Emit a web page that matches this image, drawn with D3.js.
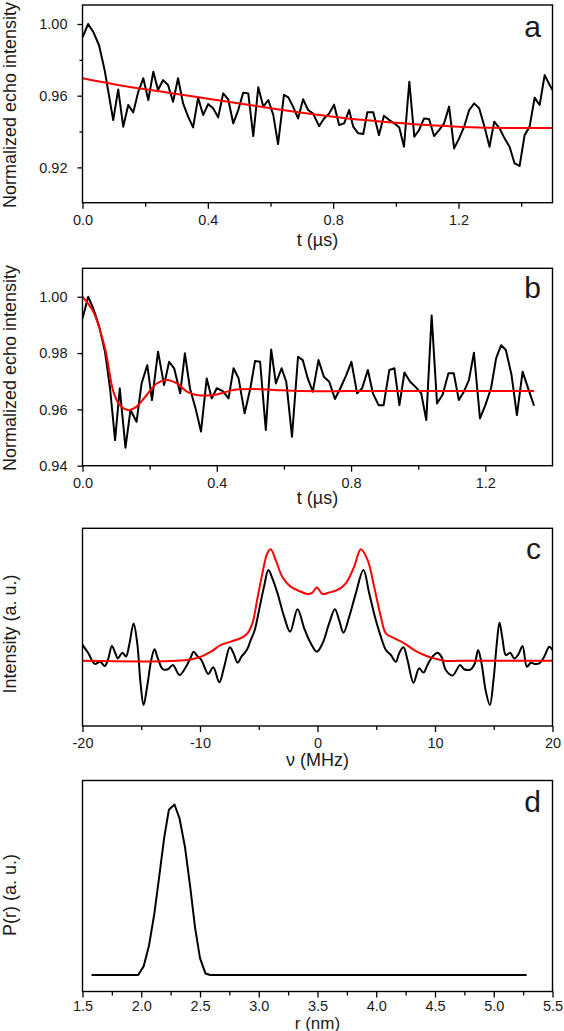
<!DOCTYPE html>
<html>
<head>
<meta charset="utf-8">
<script src="https://cdn.jsdelivr.net/npm/d3@7"></script>
<style>
  html, body { margin: 0; padding: 0; background: #fff; }
  svg text { font-family: "Liberation Sans", Arial, sans-serif; fill: #1a1a1a; }
</style>
</head>
<body>
<svg id="chart" width="564" height="1031"></svg>
<script>
// ---------------- DATA ----------------
// Panel a: echo decay (black) and background fit (red)
const tA = [0,0.018,0.034,0.053,0.071,0.087,0.098,0.114,0.13,0.146,0.162,0.178,0.194,0.21,0.226,0.241,0.257,0.273,0.289,0.305,0.321,0.337,0.353,0.369,0.385,0.401,0.417,0.433,0.449,0.465,0.481,0.497,0.513,0.529,0.545,0.561,0.577,0.593,0.609,0.624,0.643,0.657,0.672,0.688,0.704,0.72,0.736,0.755,0.771,0.787,0.803,0.819,0.835,0.851,0.864,0.88,0.896,0.909,0.928,0.946,0.962,0.979,0.995,1.011,1.026,1.043,1.059,1.074,1.09,1.106,1.122,1.138,1.154,1.17,1.186,1.202,1.218,1.234,1.25,1.266,1.283,1.299,1.314,1.331,1.347,1.363,1.379,1.395,1.411,1.427,1.443,1.459,1.475,1.491,1.5];
const echoA = [0.9926,1.000,0.9957,0.988,0.974,0.9576,0.9464,0.9635,0.9427,0.9548,0.9507,0.9622,0.9697,0.9576,0.9734,0.9632,0.9687,0.966,0.9566,0.9697,0.9557,0.9483,0.9423,0.9589,0.9492,0.9553,0.953,0.9479,0.9613,0.958,0.9446,0.952,0.9617,0.9613,0.9375,0.9647,0.9539,0.9576,0.9492,0.933,0.9604,0.959,0.9539,0.9473,0.958,0.952,0.950,0.943,0.9473,0.950,0.955,0.9436,0.9446,0.952,0.9427,0.939,0.9386,0.9507,0.9507,0.938,0.9488,0.9464,0.9446,0.9423,0.9315,0.9678,0.9371,0.9408,0.9473,0.947,0.9375,0.9408,0.9446,0.9539,0.9306,0.9362,0.9427,0.952,0.9557,0.953,0.9427,0.9315,0.9455,0.9418,0.9362,0.9315,0.9222,0.9208,0.938,0.9427,0.9589,0.9548,0.9715,0.966,0.9632];
const fitTA = [0,0.1,0.2,0.3,0.4,0.5,0.6,0.7,0.8,0.9,1.0,1.1,1.2,1.3,1.4,1.5];
const fitA = [0.9697,0.9664,0.9636,0.961,0.9583,0.9557,0.9530,0.9505,0.9483,0.9464,0.9449,0.9436,0.9427,0.9421,0.9420,0.9420];

// Panel b: background-corrected echo (black) and fit (red)
const tB = [0,0.017,0.032,0.05,0.067,0.082,0.097,0.111,0.128,0.143,0.161,0.176,0.193,0.207,0.225,0.243,0.258,0.273,0.291,0.305,0.32,0.338,0.353,0.37,0.385,0.4,0.418,0.435,0.45,0.465,0.483,0.5,0.514,0.529,0.546,0.562,0.576,0.593,0.607,0.624,0.642,0.656,0.671,0.686,0.703,0.719,0.735,0.752,0.768,0.785,0.801,0.818,0.833,0.85,0.865,0.882,0.897,0.914,0.929,0.944,0.959,0.976,0.992,1.009,1.024,1.04,1.056,1.073,1.09,1.106,1.121,1.136,1.151,1.166,1.184,1.2,1.217,1.232,1.247,1.261,1.278,1.294,1.311,1.326,1.345];
const echoB = [0.9923,1.000,0.9959,0.9893,0.9805,0.9675,0.9491,0.9675,0.9464,0.9598,0.9556,0.9692,0.9757,0.9633,0.9805,0.9686,0.9769,0.9746,0.9657,0.9799,0.9675,0.9598,0.9521,0.971,0.9639,0.9675,0.9665,0.9639,0.9746,0.971,0.9586,0.9675,0.9772,0.9769,0.9527,0.9813,0.9692,0.9746,0.9698,0.9503,0.9787,0.9775,0.971,0.9663,0.9775,0.9716,0.9698,0.9637,0.9675,0.972,0.9769,0.9657,0.9675,0.974,0.9657,0.9615,0.9615,0.974,0.9746,0.9615,0.9731,0.9698,0.968,0.9657,0.9562,0.9933,0.9621,0.9653,0.9728,0.9728,0.9633,0.9663,0.9704,0.9801,0.9568,0.9615,0.9675,0.9781,0.9828,0.9811,0.9722,0.958,0.9734,0.968,0.9613];
const fitTB = [0,0.032,0.067,0.092,0.111,0.136,0.161,0.191,0.221,0.251,0.281,0.311,0.34,0.37,0.4,0.45,0.51,0.57,0.65,0.8,1.0,1.2,1.345];
const fitB = [1.000,0.9947,0.9817,0.9663,0.9615,0.9598,0.961,0.9651,0.9692,0.9704,0.9692,0.9663,0.9651,0.9649,0.9653,0.9669,0.9672,0.9669,0.9665,0.9665,0.9665,0.9665,0.9665];

// Panel c: spectrum (black) and simulated Pake pattern (red)
const nuC = [-20,-19.5,-18.95,-18.5,-18.1,-17.8,-17.5,-17.2,-17.0,-16.6,-16.3,-16.0,-15.65,-15.34,-15.06,-14.8,-14.5,-14.15,-13.87,-13.59,-13.16,-12.74,-12.3,-11.75,-11.19,-10.76,-10.54,-10.2,-9.92,-9.63,-9.3,-8.87,-8.36,-7.94,-7.46,-7.15,-6.8,-6.47,-6.02,-5.68,-5.34,-4.97,-4.55,-4.18,-3.84,-3.4,-2.84,-2.33,-1.7,-1.13,-0.57,-0.06,0.43,0.99,1.48,1.84,2.21,2.7,3.26,3.91,4.4,4.96,5.39,5.82,6.24,6.67,6.95,7.32,7.66,8.17,8.65,9.02,9.36,9.79,10.21,10.55,10.92,11.49,12.14,12.48,13.05,13.39,13.67,13.96,14.33,14.67,14.98,15.26,15.49,15.74,16.03,16.4,16.74,17.1,17.45,17.82,18.16,18.5,18.87,19.3,19.72,20];
const specC = [0.41,0.368,0.314,0.325,0.304,0.342,0.405,0.368,0.342,0.371,0.351,0.418,0.519,0.418,0.216,0.106,0.199,0.334,0.388,0.342,0.287,0.287,0.309,0.258,0.3,0.351,0.376,0.351,0.337,0.3,0.263,0.297,0.221,0.3,0.398,0.368,0.32,0.351,0.384,0.435,0.486,0.587,0.705,0.789,0.747,0.671,0.553,0.477,0.59,0.494,0.418,0.376,0.418,0.519,0.59,0.536,0.472,0.553,0.671,0.789,0.671,0.536,0.452,0.384,0.359,0.325,0.368,0.398,0.334,0.219,0.292,0.27,0.309,0.351,0.371,0.351,0.283,0.255,0.309,0.287,0.287,0.317,0.384,0.317,0.174,0.106,0.233,0.418,0.523,0.442,0.359,0.371,0.342,0.363,0.405,0.3,0.32,0.314,0.317,0.351,0.401,0.384];
const nuFitC = [-20,-11.05,-9.92,-9.07,-8.22,-7.37,-6.53,-5.96,-5.54,-5.11,-4.69,-4.27,-3.98,-3.56,-3.0,-2.29,-1.56,-0.85,-0.43,-0.06,0.43,0.99,1.7,2.41,3.12,3.69,4.26,4.82,5.39,5.82,6.52,7.38,8.23,9.08,9.93,10.78,12,20];
const fitC = [0.33,0.334,0.351,0.376,0.41,0.427,0.444,0.469,0.519,0.646,0.772,0.874,0.894,0.84,0.755,0.705,0.683,0.668,0.675,0.7,0.668,0.675,0.688,0.722,0.806,0.894,0.84,0.705,0.553,0.469,0.444,0.418,0.384,0.359,0.342,0.33,0.33,0.33];

// Panel d: distance distribution
const rD = [1.577,1.974,2.02,2.066,2.112,2.152,2.195,2.235,2.283,2.326,2.372,2.418,2.458,2.5,2.547,2.586,5.28];
const pD = [0.078,0.078,0.119,0.218,0.371,0.541,0.728,0.861,0.886,0.82,0.685,0.49,0.303,0.158,0.085,0.078,0.078];

// Tick values
const xMajorA = [0,0.4,0.8,1.2], xMinorA = [0.2,0.6,1.0,1.4];
const yMajorA = [0.92,0.96,1.00], yMinorA = [0.94,0.98];
const xMajorB = [0,0.4,0.8,1.2], xMinorB = [0.2,0.6,1.0];
const yMajorB = [0.94,0.96,0.98,1.00];
const xMajorC = [-20,-10,0,10,20], xMinorC = [-15,-5,5,15];
const xMajorD = [1.5,2.0,2.5,3.0,3.5,4.0,4.5,5.0,5.5], xMinorD = [1.75,2.25,2.75,3.25,3.75,4.25,4.75,5.25];

// ---------------- DRAW ----------------
const svg = d3.select("#chart");
const L = 82.5, R = 552.5;
const TICKFONT = 14.5, TITLEFONT = 18;

function panel(o) {
  const x = d3.scaleLinear().domain(o.xDomain).range([L, R]);
  const y = d3.scaleLinear().domain(o.yDomain).range([o.bottom, o.top]);
  const g = svg.append("g");

  // minor x ticks
  g.append("g").attr("transform", `translate(0,${o.bottom})`)
    .call(d3.axisBottom(x).tickValues(o.xMinor).tickSize(4).tickFormat(""))
    .call(s => s.select(".domain").remove())
    .call(s => s.selectAll("line").attr("stroke", "#000").attr("stroke-width", 1.3));
  // major x ticks
  const xa = g.append("g").attr("transform", `translate(0,${o.bottom})`)
    .call(d3.axisBottom(x).tickValues(o.xMajor).tickSize(6).tickFormat(o.xFmt))
    .call(s => s.select(".domain").remove())
    .call(s => s.selectAll("line").attr("stroke", "#000").attr("stroke-width", 1.3));
  xa.selectAll("text").attr("dy", null).attr("y", o.xLabelOff || 22.5)
    .style("font-size", TICKFONT + "px").attr("fill", "#1a1a1a");

  if (o.yMajor) {
    const ya = g.append("g").attr("transform", `translate(${L},0)`)
      .call(d3.axisLeft(y).tickValues(o.yMajor).tickSize(5).tickPadding(10).tickFormat(d3.format(".2f")))
      .call(s => s.select(".domain").remove())
      .call(s => s.selectAll("line").attr("stroke", "#000").attr("stroke-width", 1.3));
    ya.selectAll("text").style("font-size", TICKFONT + "px").attr("fill", "#1a1a1a");
  }
  if (o.yMinor) {
    g.append("g").attr("transform", `translate(${L},0)`)
      .call(d3.axisLeft(y).tickValues(o.yMinor).tickSize(3).tickFormat(""))
      .call(s => s.select(".domain").remove())
      .call(s => s.selectAll("line").attr("stroke", "#000").attr("stroke-width", 1.3));
  }

  // clip
  const cid = "clip" + o.letter;
  svg.append("clipPath").attr("id", cid).append("rect")
    .attr("x", L).attr("y", o.top).attr("width", R - L).attr("height", o.bottom - o.top);

  // series
  o.series.forEach(s => {
    const pts = s.xs.map((v, i) => [v, s.ys[i]]);
    g.append("path")
      .attr("clip-path", `url(#${cid})`)
      .attr("d", d3.line().x(d => x(d[0])).y(d => y(d[1])).curve(s.curve)(pts))
      .attr("fill", "none").attr("stroke", s.color).attr("stroke-width", s.width)
      .attr("stroke-linejoin", "round");
  });

  // frame
  g.append("rect").attr("x", L).attr("y", o.top).attr("width", R - L).attr("height", o.bottom - o.top)
    .attr("fill", "none").attr("stroke", "#000").attr("stroke-width", 1.4);

  // titles
  g.append("text").attr("x", (L + R) / 2 + (o.xTitleDx || 0)).attr("y", o.xTitleY)
    .attr("text-anchor", "middle").style("font-size", (o.xTitleFont || TITLEFONT) + "px").text(o.xTitle);
  g.append("text").attr("transform", `translate(15.5,${o.yTitleY}) rotate(-90)`)
    .attr("text-anchor", "middle").style("font-size", TITLEFONT + "px").text(o.yTitle);
  // panel letter
  g.append("text").attr("x", 541).attr("y", o.letterY).attr("text-anchor", "end")
    .style("font-size", "30px").attr("fill", "#000").text(o.letter);
}

const smooth = d3.curveCatmullRom.alpha(0.5);
const plain = d => String(d);

panel({
  letter: "a", top: 5, bottom: 202.7, xDomain: [0, 1.5], yDomain: [0.9003, 1.0106],
  xMajor: xMajorA, xMinor: xMinorA, yMajor: yMajorA, yMinor: yMinorA, xFmt: d3.format(".1f"),
  xTitle: "t (\u00b5s)", xTitleY: 246, yTitle: "Normalized echo intensity", yTitleY: 105, letterY: 37,
  series: [
    { xs: tA, ys: echoA, color: "#000", width: 2, curve: d3.curveLinear },
    { xs: fitTA, ys: fitA, color: "#ff0000", width: 2, curve: d3.curveMonotoneX }
  ]
});

panel({
  letter: "b", top: 268.3, bottom: 465.7, xDomain: [0, 1.4], yDomain: [0.94, 1.0101],
  xMajor: xMajorB, xMinor: xMinorB, yMajor: yMajorB, xFmt: d3.format(".1f"),
  xTitle: "t (\u00b5s)", xTitleY: 504, yTitle: "Normalized echo intensity", yTitleY: 368, letterY: 298,
  series: [
    { xs: tB, ys: echoB, color: "#000", width: 2, curve: d3.curveLinear },
    { xs: fitTB, ys: fitB, color: "#ff0000", width: 2, curve: smooth }
  ]
});

panel({
  letter: "c", top: 528.3, bottom: 726, xDomain: [-20, 20], yDomain: [0, 1],
  xMajor: xMajorC, xMinor: xMinorC, xFmt: plain, xLabelOff: 21.5,
  xTitle: "\u03bd (MHz)", xTitleY: 766, yTitle: "Intensity (a. u.)", yTitleY: 634, letterY: 559,
  series: [
    { xs: nuC, ys: specC, color: "#000", width: 2, curve: smooth },
    { xs: nuFitC, ys: fitC, color: "#ff0000", width: 2, curve: smooth }
  ]
});

panel({
  letter: "d", top: 780.5, bottom: 991.5, xDomain: [1.5, 5.5], yDomain: [0, 1],
  xMajor: xMajorD, xMinor: xMinorD, xFmt: d3.format(".1f"), xLabelOff: 19.5,
  xTitle: "r (nm)", xTitleY: 1028.5, xTitleFont: 17, yTitle: "P(r) (a. u.)", yTitleY: 895, letterY: 812,
  series: [
    { xs: rD, ys: pD, color: "#000", width: 2, curve: d3.curveLinear }
  ]
});
</script>
</body>
</html>
